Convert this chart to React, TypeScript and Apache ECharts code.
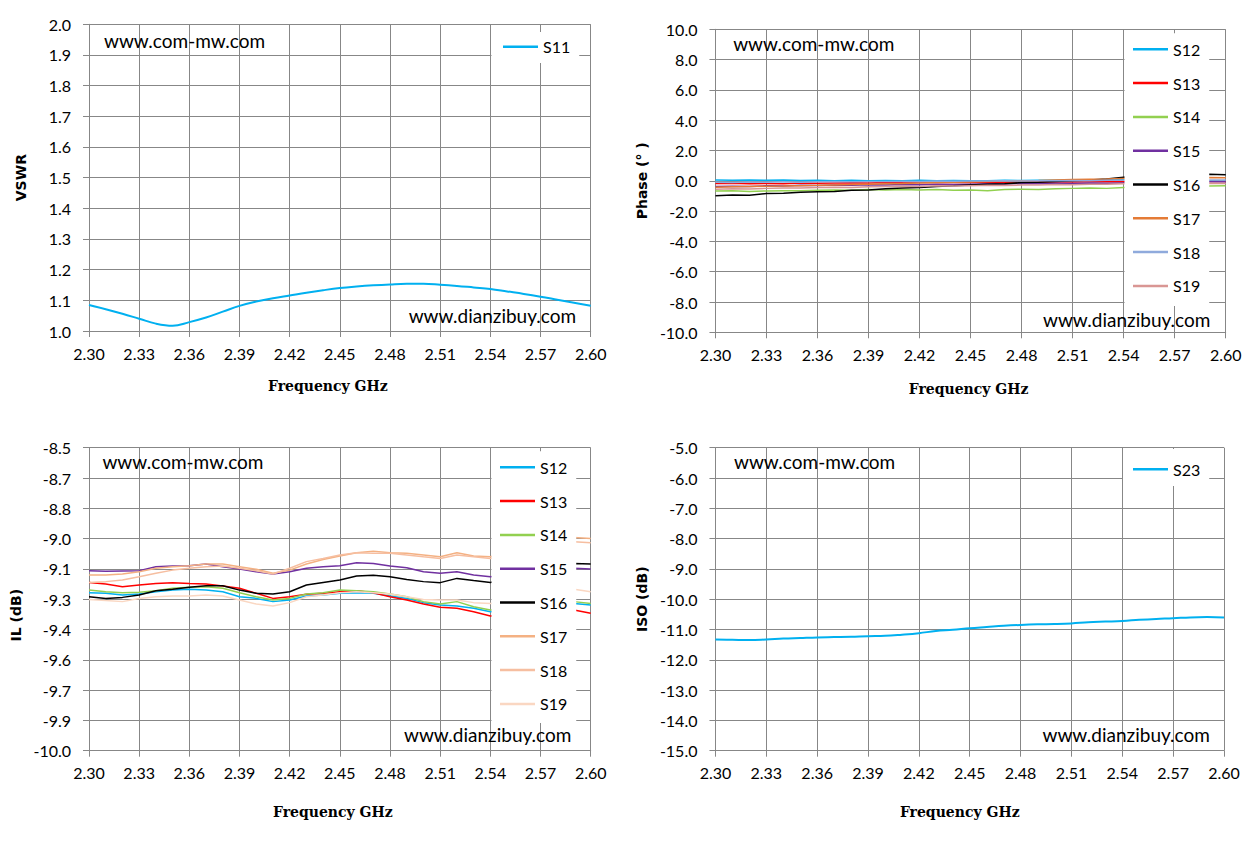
import { useEffect, useRef } from 'react';
import * as echarts from 'echarts';
import type { EChartsOption } from 'echarts';

// frequency points (GHz)
const FREQ = [
  2.30, 2.31, 2.32, 2.33, 2.34, 2.35, 2.36, 2.37, 2.38, 2.39, 2.40,
  2.41, 2.42, 2.43, 2.44, 2.45, 2.46, 2.47, 2.48, 2.49, 2.50,
  2.51, 2.52, 2.53, 2.54, 2.55, 2.56, 2.57, 2.58, 2.59, 2.60,
];

const X_TICKS = ['2.30', '2.33', '2.36', '2.39', '2.42', '2.45', '2.48', '2.51', '2.54', '2.57', '2.60'];
const VSWR_TICKS = ['1.0', '1.1', '1.2', '1.3', '1.4', '1.5', '1.6', '1.7', '1.8', '1.9', '2.0'];
const PHASE_TICKS = ['-10.0', '-8.0', '-6.0', '-4.0', '-2.0', '0.0', '2.0', '4.0', '6.0', '8.0', '10.0'];
const IL_TICKS = ['-10.0', '-9.9', '-9.7', '-9.6', '-9.4', '-9.3', '-9.1', '-9.0', '-8.8', '-8.7', '-8.5'];
const ISO_TICKS = ['-15.0', '-14.0', '-13.0', '-12.0', '-11.0', '-10.0', '-9.0', '-8.0', '-7.0', '-6.0', '-5.0'];

// VSWR
const S11 = [
  1.085, 1.071, 1.056, 1.040, 1.024, 1.017, 1.029, 1.044, 1.063, 1.082, 1.096,
  1.107, 1.116, 1.125, 1.133, 1.140, 1.145, 1.149, 1.152, 1.154, 1.154,
  1.151, 1.147, 1.142, 1.137, 1.129, 1.121, 1.112, 1.102, 1.092, 1.082,
];

// Phase (deg)
const PH_S12 = [0.05, 0.04, 0.06, 0.03, 0.05, 0.02, 0.04, 0.01, 0.03, 0.0, 0.02, 0.01, 0.03, 0.0, 0.02, 0.0, 0.01, 0.03, 0.02, 0.04, 0.03, 0.05, 0.06, 0.08, 0.1, 0.08, 0.05, 0.03, 0.02, 0.0, -0.02];
const PH_S13 = [-0.18, -0.16, -0.2, -0.17, -0.19, -0.15, -0.16, -0.14, -0.13, -0.15, -0.12, -0.13, -0.1, -0.12, -0.11, -0.1, -0.12, -0.09, -0.08, -0.1, -0.07, -0.08, -0.06, -0.05, -0.06, -0.05, -0.04, -0.04, -0.03, -0.05, -0.04];
const PH_S14 = [-0.68, -0.66, -0.7, -0.67, -0.65, -0.66, -0.63, -0.6, -0.62, -0.58, -0.6, -0.57, -0.6, -0.58, -0.62, -0.6, -0.65, -0.58, -0.55, -0.57, -0.52, -0.5, -0.48, -0.5, -0.44, -0.42, -0.4, -0.38, -0.37, -0.35, -0.32];
const PH_S15 = [-0.38, -0.36, -0.37, -0.33, -0.35, -0.3, -0.31, -0.28, -0.3, -0.26, -0.27, -0.25, -0.26, -0.22, -0.24, -0.22, -0.2, -0.21, -0.18, -0.19, -0.16, -0.17, -0.15, -0.16, -0.14, -0.12, -0.1, -0.09, -0.08, -0.07, -0.06];
const PH_S16 = [-0.98, -0.93, -0.95, -0.84, -0.82, -0.76, -0.72, -0.7, -0.62, -0.6, -0.52, -0.48, -0.44, -0.38, -0.33, -0.27, -0.22, -0.2, -0.12, -0.1, -0.05, 0.0, 0.06, 0.12, 0.24, 0.28, 0.3, 0.34, 0.36, 0.44, 0.4];
const PH_S17 = [-0.42, -0.4, -0.38, -0.36, -0.35, -0.32, -0.3, -0.27, -0.25, -0.22, -0.2, -0.18, -0.15, -0.12, -0.1, -0.08, -0.05, -0.02, 0.0, 0.02, 0.05, 0.08, 0.1, 0.12, 0.15, 0.16, 0.18, 0.19, 0.2, 0.22, 0.2];
const PH_S18 = [-0.1, -0.12, -0.08, -0.1, -0.07, -0.09, -0.06, -0.05, -0.07, -0.04, -0.05, -0.03, -0.05, -0.02, -0.03, -0.01, -0.02, 0.0, -0.02, 0.01, 0.0, 0.02, 0.01, 0.03, 0.04, 0.03, 0.05, 0.04, 0.05, 0.06, 0.05];
const PH_S19 = [-0.55, -0.52, -0.54, -0.5, -0.48, -0.47, -0.45, -0.42, -0.44, -0.4, -0.38, -0.36, -0.37, -0.33, -0.34, -0.32, -0.3, -0.31, -0.28, -0.27, -0.25, -0.26, -0.23, -0.22, -0.2, -0.2, -0.19, -0.18, -0.17, -0.16, -0.18];

// Insertion loss (dB)
const IL_S12 = [-9.218, -9.221, -9.229, -9.224, -9.213, -9.205, -9.201, -9.205, -9.213, -9.238, -9.246, -9.262, -9.254, -9.234, -9.229, -9.221, -9.218, -9.221, -9.234, -9.246, -9.267, -9.279, -9.284, -9.295, -9.312, -9.31, -9.30, -9.29, -9.28, -9.271, -9.279];
const IL_S13 = [-9.167, -9.175, -9.188, -9.180, -9.172, -9.168, -9.172, -9.175, -9.185, -9.196, -9.221, -9.246, -9.238, -9.225, -9.221, -9.213, -9.208, -9.218, -9.238, -9.254, -9.274, -9.290, -9.295, -9.312, -9.333, -9.33, -9.32, -9.31, -9.30, -9.304, -9.320];
const IL_S14 = [-9.205, -9.213, -9.218, -9.216, -9.208, -9.196, -9.191, -9.188, -9.196, -9.218, -9.238, -9.254, -9.246, -9.224, -9.218, -9.205, -9.208, -9.213, -9.224, -9.238, -9.262, -9.274, -9.262, -9.287, -9.304, -9.30, -9.29, -9.28, -9.27, -9.262, -9.271];
const IL_S15 = [-9.109, -9.112, -9.110, -9.109, -9.089, -9.086, -9.084, -9.076, -9.089, -9.101, -9.114, -9.125, -9.114, -9.097, -9.089, -9.084, -9.069, -9.073, -9.086, -9.094, -9.114, -9.122, -9.114, -9.130, -9.139, -9.13, -9.12, -9.11, -9.10, -9.097, -9.101];
const IL_S16 = [-9.238, -9.246, -9.241, -9.229, -9.208, -9.201, -9.191, -9.183, -9.183, -9.205, -9.221, -9.224, -9.213, -9.180, -9.167, -9.155, -9.135, -9.132, -9.139, -9.152, -9.163, -9.168, -9.147, -9.158, -9.167, -9.15, -9.13, -9.11, -9.09, -9.073, -9.076];
const IL_S17 = [-9.130, -9.130, -9.125, -9.114, -9.097, -9.089, -9.084, -9.076, -9.076, -9.089, -9.102, -9.122, -9.106, -9.076, -9.053, -9.036, -9.020, -9.012, -9.020, -9.023, -9.031, -9.040, -9.020, -9.036, -9.040, -9.02, -9.00, -8.98, -8.96, -8.944, -8.949];
const IL_S18 = [-9.167, -9.163, -9.155, -9.139, -9.122, -9.106, -9.097, -9.089, -9.086, -9.097, -9.109, -9.125, -9.097, -9.064, -9.048, -9.031, -9.020, -9.023, -9.023, -9.031, -9.040, -9.048, -9.031, -9.040, -9.048, -9.03, -9.01, -8.99, -8.98, -8.965, -8.970];
const IL_S19 = [-9.251, -9.257, -9.262, -9.246, -9.238, -9.234, -9.234, -9.229, -9.234, -9.254, -9.274, -9.284, -9.267, -9.238, -9.229, -9.218, -9.213, -9.218, -9.224, -9.238, -9.251, -9.254, -9.254, -9.267, -9.271, -9.26, -9.24, -9.23, -9.21, -9.201, -9.213];

// Isolation (dB)
const ISO_S23 = [
  -11.33, -11.34, -11.35, -11.33, -11.30, -11.28, -11.26, -11.25, -11.24, -11.22, -11.21,
  -11.17, -11.12, -11.05, -11.01, -10.96, -10.92, -10.88, -10.85, -10.83, -10.82,
  -10.80, -10.76, -10.74, -10.72, -10.68, -10.65, -10.63, -10.60, -10.59, -10.60,
];

const GRID_COLOR = '#878787';
const LABEL_FONT = 'Lato';

// x positions are 0.01 GHz steps counted from 2.30, so ticks fall on 2.30, 2.33 ...
const toX = (f: number) => Math.round((f - 2.3) * 1000) / 10;

function xAxisOf(nameGap: number, shift: number) {
  return {
    type: 'value' as const,
    min: 0,
    max: 30,
    interval: 3,
    axisLine: { show: true, onZero: false, lineStyle: { color: GRID_COLOR, width: 1 } },
    axisTick: { show: true, length: 6, lineStyle: { color: GRID_COLOR } },
    axisLabel: {
      margin: 14,
      color: '#000',
      fontFamily: LABEL_FONT,
      fontSize: 16,
      formatter: (v: number) => X_TICKS[Math.round(v / 3)] ?? '',
    },
    splitLine: { show: true, lineStyle: { color: GRID_COLOR, width: 1 } },
    name: 'Frequency GHz',
    nameLocation: 'middle' as const,
    nameGap,
    nameTextStyle: {
      fontFamily: 'DejaVu Serif',
      fontWeight: 'bold' as const,
      fontSize: 14,
      color: '#000',
      padding: [0, shift * 2, 0, 0],
    },
  };
}

function yAxisOf(name: string, min: number, max: number, interval: number, ticks: string[], nameGap: number, shiftDown = 0) {
  return {
    type: 'value' as const,
    min,
    max,
    interval,
    axisLine: { show: true, lineStyle: { color: GRID_COLOR, width: 1 } },
    axisTick: { show: true, length: 6, lineStyle: { color: GRID_COLOR } },
    axisLabel: {
      margin: 18,
      color: '#000',
      fontFamily: LABEL_FONT,
      fontSize: 16,
      formatter: (v: number) => ticks[Math.round((v - min) / interval)] ?? '',
    },
    splitLine: { show: true, lineStyle: { color: GRID_COLOR, width: 1 } },
    name,
    nameLocation: 'middle' as const,
    nameRotate: 90,
    nameGap,
    nameTextStyle: {
      fontFamily: 'DejaVu Sans',
      fontWeight: 'bold' as const,
      fontSize: 14,
      color: '#000',
      padding: [0, shiftDown * 2, 0, 0],
    },
  };
}

function legendOf(left: number, top: number, padding: number[]) {
  return {
    orient: 'vertical' as const,
    left,
    top,
    padding,
    backgroundColor: '#fff',
    icon: 'rect',
    itemWidth: 35,
    itemHeight: 2.5,
    itemGap: 15.8,
    selectedMode: false,
    z: 10,
    textStyle: { fontFamily: LABEL_FONT, fontSize: 16, color: '#000', lineHeight: 18 },
  };
}

function watermarks(a: [number, number], b: [number, number]) {
  const style = { font: `19px ${LABEL_FONT}`, fill: '#000', verticalAlign: 'middle' };
  return [
    { type: 'text', x: a[0], y: a[1], z: 100, style: { ...style, text: 'www.com-mw.com' } },
    { type: 'text', x: b[0], y: b[1], z: 100, style: { ...style, text: 'www.dianzibuy.com' } },
  ];
}

function lineSeries(name: string, values: number[], color: string, width: number, mapY = (v: number) => v) {
  return {
    name,
    type: 'line' as const,
    data: FREQ.map((f, i) => [toX(f), mapY(values[i])]),
    showSymbol: false,
    symbol: 'none',
    smooth: false,
    color,
    lineStyle: { color, width },
  };
}

const vswrOption: EChartsOption = {
  animation: false,
  backgroundColor: '#fff',
  grid: { left: 89, right: 36.3, top: 24.3, bottom: 89 },
  xAxis: xAxisOf(48, 12),
  yAxis: yAxisOf('VSWR', 1, 2, 0.1, VSWR_TICKS, 61),
  legend: legendOf(491.5, 32, [5.7, 9, 7.3, 11.5]),
  series: [{ ...lineSeries('S11', S11, '#00B0F0', 2), smooth: 0.4 }],
  graphic: watermarks([104, 40], [408.7, 315]),
};

const PHASE_SETS: Array<[string, number[], string]> = [
  ['S12', PH_S12, '#00B0F0'],
  ['S13', PH_S13, '#FF0000'],
  ['S14', PH_S14, '#92D050'],
  ['S15', PH_S15, '#7030A0'],
  ['S16', PH_S16, '#000000'],
  ['S17', PH_S17, '#E47B36'],
  ['S18', PH_S18, '#8FAADC'],
  ['S19', PH_S19, '#D99694'],
];

const phaseOption: EChartsOption = {
  animation: false,
  backgroundColor: '#fff',
  grid: { left: 88, right: 29.3, top: 29.3, bottom: 87.7 },
  xAxis: xAxisOf(50, 2),
  yAxis: yAxisOf('Phase (° )', -10, 10, 2, PHASE_TICKS, 63),
  legend: legendOf(497.5, 33.3, [7, 9, 11, 8.5]),
  series: PHASE_SETS.map(([n, v, c]) => lineSeries(n, v, c, 1.5)),
  graphic: watermarks([106.2, 43.3], [416, 319.3]),
};

const IL_SETS: Array<[string, number[], string]> = [
  ['S12', IL_S12, '#00B0F0'],
  ['S13', IL_S13, '#FF0000'],
  ['S14', IL_S14, '#92D050'],
  ['S15', IL_S15, '#7030A0'],
  ['S16', IL_S16, '#000000'],
  ['S17', IL_S17, '#F4B183'],
  ['S18', IL_S18, '#F6BEA0'],
  ['S19', IL_S19, '#FAD7C2'],
];

// IL axis runs -10.0 .. -8.5 in 0.15 steps; plotted as hundredths above -10 dB
const ilY = (v: number) => Math.round((v + 10) * 1000) / 10;

const ilOption: EChartsOption = {
  animation: false,
  backgroundColor: '#fff',
  grid: { left: 89, right: 36.3, top: 27.7, bottom: 90.3 },
  xAxis: xAxisOf(54, 7),
  yAxis: yAxisOf('IL (dB)', 0, 150, 15, IL_TICKS, 62, 16),
  legend: legendOf(491.5, 31.3, [7, 9, 10, 8.5]),
  series: IL_SETS.map(([n, v, c]) => lineSeries(n, v, c, 1.5, ilY)),
  graphic: watermarks([102.4, 41.7], [404, 314]),
};

const isoOption: EChartsOption = {
  animation: false,
  backgroundColor: '#fff',
  grid: { left: 88, right: 31, top: 27.7, bottom: 90.3 },
  xAxis: xAxisOf(54, 10),
  yAxis: yAxisOf('ISO (dB)', -15, -5, 1, ISO_TICKS, 63),
  legend: legendOf(496, 29, [11.3, 9, 7.7, 10]),
  series: [{ ...lineSeries('S23', ISO_S23, '#00B0F0', 2), smooth: 0.4 }],
  graphic: watermarks([107, 41.7], [415.5, 314]),
};

function Panel({ left, top, width, height, option }: {
  left: number; top: number; width: number; height: number; option: EChartsOption;
}) {
  const ref = useRef<HTMLDivElement>(null);

  useEffect(() => {
    if (!ref.current) return;
    const chart = echarts.init(ref.current, undefined, { renderer: 'svg' });
    chart.setOption(option);
    return () => chart.dispose();
  }, [option]);

  return <div ref={ref} style={{ position: 'absolute', left, top, width, height }} />;
}

export default function App() {
  return (
    <div style={{ position: 'absolute', left: 0, top: 0, width: 1255, height: 841, background: '#fff' }}>
      <Panel left={0} top={0} width={627} height={420} option={vswrOption} />
      <Panel left={627} top={0} width={628} height={420} option={phaseOption} />
      <Panel left={0} top={420} width={627} height={421} option={ilOption} />
      <Panel left={627} top={420} width={628} height={421} option={isoOption} />
    </div>
  );
}
